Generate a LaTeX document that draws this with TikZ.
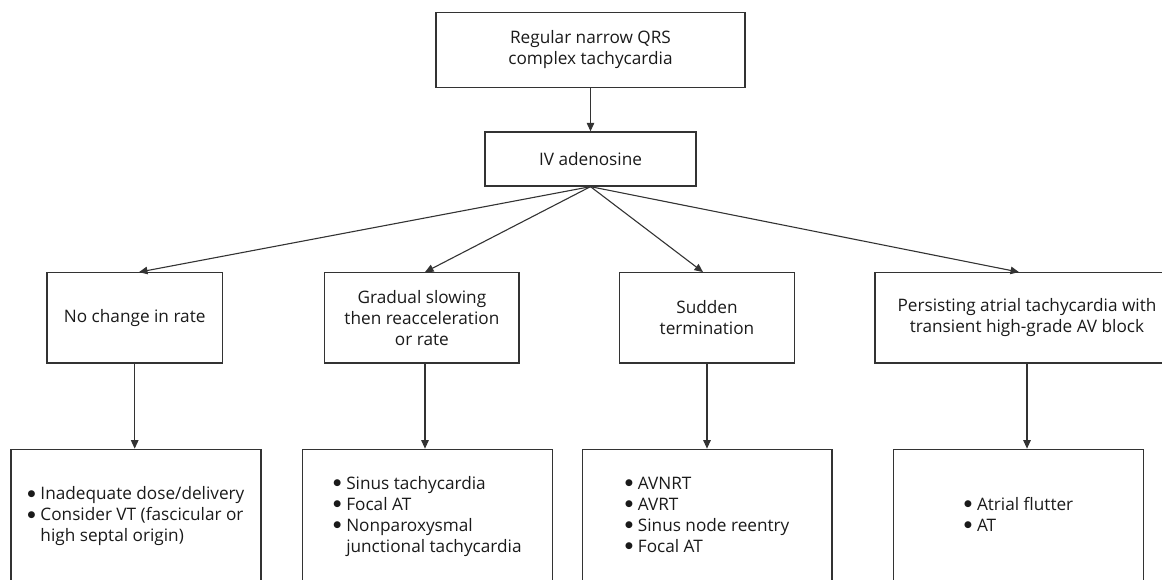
\documentclass[tikz,border=0pt]{standalone}
\usepackage{fontspec}
\setmainfont{Open Sans}
\newfontfamily\dejavu{DejaVu Sans}
\usetikzlibrary{arrows.meta,calc}
\definecolor{ink}{HTML}{1A1A1A}
\definecolor{linec}{HTML}{333333}
\tikzset{
  box/.style={draw=linec, line width=1.3pt, inner sep=0pt, align=center, text=ink,
    font=\fontsize{17.2}{21}\selectfont},
  conn/.style={draw=linec, line width=1.1pt, -{Triangle[length=8.5pt,width=7.5pt]}},
}
\newcommand{\bul}{\raisebox{3.4pt}{\dejavu\fontsize{9}{9}\selectfont ●}}
\newcommand{\blist}[1]{\begin{tabular}{@{}l@{\hspace{5pt}}l@{}}#1\end{tabular}}
\begin{document}
\begin{tikzpicture}[x=1pt,y=-1pt]
\useasboundingbox (0,0) rectangle (1162,580);
\clip (0,0) rectangle (1162,580);
% top row
\node[box, minimum width=309pt, minimum height=75pt] (top) at (590.5,49.75) {Regular narrow QRS\\complex tachycardia};
\node[box, minimum width=211pt, minimum height=54pt] (iv) at (590.5,159) {IV adenosine};
% middle row
\node[box, minimum width=175.3pt, minimum height=90.3pt] (nc) at (134.7,317.9) {No change in rate};
\node[box, minimum width=194.3pt, minimum height=90.3pt] (gr) at (421.9,317.9) {Gradual slowing\\then reacceleration\\or rate};
\node[box, minimum width=175.4pt, minimum height=90.3pt] (su) at (707,317.9) {Sudden\\termination};
\node[box, minimum width=304pt, minimum height=90.3pt] (pe) at (1027,317.9) {Persisting atrial tachycardia with\\transient high-grade AV block};
% bottom row
\node[box, minimum width=250pt, minimum height=134pt] (b1) at (136,516.3)
  {\blist{\bul & Inadequate dose/delivery\\ \bul & Consider VT (fascicular or\\ & high septal origin)}};
\node[box, minimum width=250.4pt, minimum height=134pt] (b2) at (427.5,516.3)
  {\blist{\bul & Sinus tachycardia\\ \bul & Focal AT\\ \bul & Nonparoxysmal\\ & junctional tachycardia}};
\node[box, minimum width=249.7pt, minimum height=134pt] (b3) at (707.2,516.3)
  {\blist{\bul & AVNRT\\ \bul & AVRT\\ \bul & Sinus node reentry\\ \bul & Focal AT}};
\node[box, minimum width=250pt, minimum height=134pt] (b4) at (1018.7,516.3)
  {\blist{\bul & Atrial flutter\\ \bul & AT}};
% connectors
\draw[conn] (top.south) -- (iv.north);
\draw[conn] (iv.south) -- ($(nc.north)+(4.3,0)$);
\draw[conn] (iv.south) -- ($(gr.north)+(3.1,0)$);
\draw[conn] (iv.south) -- ($(su.north)+(-4,0)$);
\draw[conn] (iv.south) -- ($(pe.north)+(-8,0)$);
\draw[conn] (nc.south) -- (nc.south |- b1.north);
\coordinate (grs) at ($(gr.south)+(3.1,0)$);
\draw[conn] (grs) -- (grs |- b2.north);
\draw[conn] (su.south) -- (su.south |- b3.north);
\draw[conn] (pe.south) -- (pe.south |- b4.north);
\end{tikzpicture}
\end{document}
